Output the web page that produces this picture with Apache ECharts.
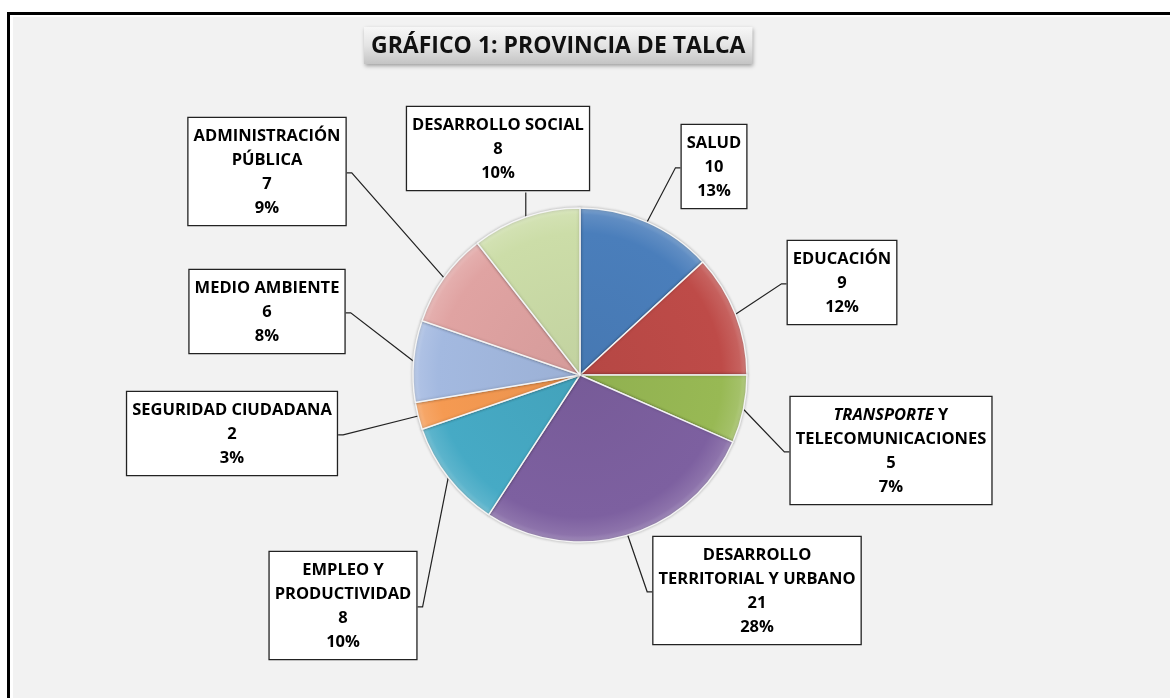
<!DOCTYPE html>
<html>
<head>
  <meta charset="utf-8">
  <title>Gráfico 1: Provincia de Talca</title>
  <script src="https://cdn.jsdelivr.net/npm/echarts@6/dist/echarts.min.js"></script>
  <style>
    html, body { margin: 0; padding: 0; background: #fff; }
    #chart-container { width: 1170px; height: 698px; }
  </style>
</head>
<body>
<div id="chart-container"></div>

<script>
  // categorias y valores (orden de las agujas del reloj desde las 12)
  var categories = [
    'SALUD',
    'EDUCACIÓN',
    'TRANSPORTE Y\nTELECOMUNICACIONES',
    'DESARROLLO\nTERRITORIAL Y URBANO',
    'EMPLEO Y\nPRODUCTIVIDAD',
    'SEGURIDAD CIUDADANA',
    'MEDIO AMBIENTE',
    'ADMINISTRACIÓN\nPÚBLICA',
    'DESARROLLO SOCIAL'
  ];
  var values = [10, 9, 5, 21, 8, 2, 6, 7, 8];

  // colores de cada sector
  var colors = ['#4A7EBB', '#BE4B48', '#98B954', '#7D60A0', '#46AAC5',
                '#F59A52', '#A3B9E0', '#E0A3A2', '#CCDDA8'];

  // donde va cada caja de etiqueta: [centro x, borde superior y]
  var labelSpots = [
    [714, 125], [842, 241], [891, 397], [757, 537], [343, 552],
    [232, 392], [267, 270], [267, 118], [498, 107]
  ];

  var CX = 580, CY = 375, R = 167;

  var total = values.reduce(function (a, b) { return a + b; }, 0);

  // angulo medio de cada sector (grados desde las 12, sentido horario)
  function midAngle(i) {
    var before = 0;
    for (var k = 0; k < i; k++) before += values[k];
    return (before + values[i] / 2) / total * 360;
  }

  function shade(hex, k) {
    var n = parseInt(hex.slice(1), 16);
    var r = (n >> 16) & 255, g = (n >> 8) & 255, b = n & 255;
    function f(c) { return Math.max(0, Math.min(255, Math.round(k > 0 ? c + (255 - c) * k : c * (1 + k)))); }
    return 'rgb(' + f(r) + ',' + f(g) + ',' + f(b) + ')';
  }

  var pieData = categories.map(function (name, i) {
    return {
      name: name,
      value: values[i],
      itemStyle: {
        color: {
          type: 'radial', x: CX, y: CY, r: R, global: true,
          colorStops: [
            { offset: 0, color: shade(colors[i], -0.05) },
            { offset: 0.85, color: colors[i] },
            { offset: 0.96, color: shade(colors[i], 0.12) },
            { offset: 1, color: shade(colors[i], 0.3) }
          ]
        }
      }
    };
  });

  var container = document.getElementById('chart-container');
  var myChart = echarts.init(container);

  var boxFont = '"Open Sans", Lato, sans-serif';

  myChart.setOption({
    backgroundColor: '#ffffff',
    animation: false,
    // marco del grafico
    graphic: [
      { type: 'rect', z: -30, silent: true, shape: { x: 7, y: 12, width: 1300, height: 800 }, style: { fill: '#000' } },
      { type: 'rect', z: -29, silent: true, shape: { x: 10, y: 15, width: 1300, height: 800 }, style: { fill: '#fff' } },
      { type: 'rect', z: -28, silent: true, shape: { x: 13, y: 17, width: 1300, height: 800 }, style: { fill: '#f2f2f2' } }
    ],
    title: {
      text: 'GRÁFICO 1: PROVINCIA DE TALCA',
      left: 364,
      top: 27,
      padding: [5, 7, 4, 7],
      backgroundColor: {
        type: 'linear', x: 0, y: 0, x2: 0, y2: 1,
        colorStops: [
          { offset: 0, color: '#f7f7f7' },
          { offset: 0.5, color: '#e4e4e4' },
          { offset: 1, color: '#c4c4c4' }
        ]
      },
      shadowBlur: 4,
      shadowOffsetX: 1,
      shadowOffsetY: 2,
      shadowColor: 'rgba(0,0,0,0.35)',
      textStyle: {
        fontFamily: boxFont,
        fontWeight: 'bold',
        fontSize: 23,
        lineHeight: 28,
        color: '#111'
      }
    },
    series: [
      {
        type: 'pie',
        center: [CX, CY],
        radius: R,
        startAngle: 90,
        clockwise: true,
        avoidLabelOverlap: false,
        percentPrecision: 0,
        data: pieData,
        itemStyle: {
          borderColor: '#f4f4f4',
          borderWidth: 1.5,
          shadowBlur: 3,
          shadowColor: 'rgba(0,0,0,0.25)'
        },
        label: {
          show: true,
          position: 'outside',
          formatter: function (p) {
            var name = p.name;
            if (name.indexOf('TRANSPORTE') === 0) {
              name = '{it|TRANSPORTE} Y' + name.slice('TRANSPORTE Y'.length);
            }
            return name + '\n' + p.value + '\n' + p.percent + '%';
          },
          color: '#000',
          fontFamily: boxFont,
          fontWeight: 'bold',
          fontSize: 16.5,
          lineHeight: 24,
          align: 'center',
          backgroundColor: '#fff',
          borderColor: '#222',
          borderWidth: 1.3,
          padding: [6, 5, 5, 5],
          rich: {
            it: {
              fontFamily: boxFont,
              fontWeight: 'bold',
              fontStyle: 'italic',
              fontSize: 16.5,
              lineHeight: 24,
              color: '#000'
            }
          }
        },
        labelLine: {
          show: true,
          lineStyle: { color: '#222', width: 1.2 }
        },
        labelLayout: function (p) {
          var i = p.dataIndex;
          var s = labelSpots[i];
          var w = p.labelRect.width, h = p.labelRect.height;
          var left = s[0] - w / 2, right = s[0] + w / 2;
          var top = s[1], bottom = s[1] + h, midY = top + h / 2;
          var a = midAngle(i) * Math.PI / 180;
          var ax = CX + R * Math.sin(a), ay = CY - R * Math.cos(a);
          var pts;
          if (ax >= left && ax <= right) {
            var ey = ay > bottom ? bottom : top;
            pts = [[ax, ay], [ax, ey], [ax, ey]];
          } else if (ax < left) {
            pts = [[ax, ay], [left - 5, midY], [left, midY]];
          } else {
            pts = [[ax, ay], [right + 5, midY], [right, midY]];
          }
          return {
            x: s[0], y: s[1], align: 'center', verticalAlign: 'top',
            labelLinePoints: pts
          };
        }
      }
    ]
  });
</script>
</body>
</html>
